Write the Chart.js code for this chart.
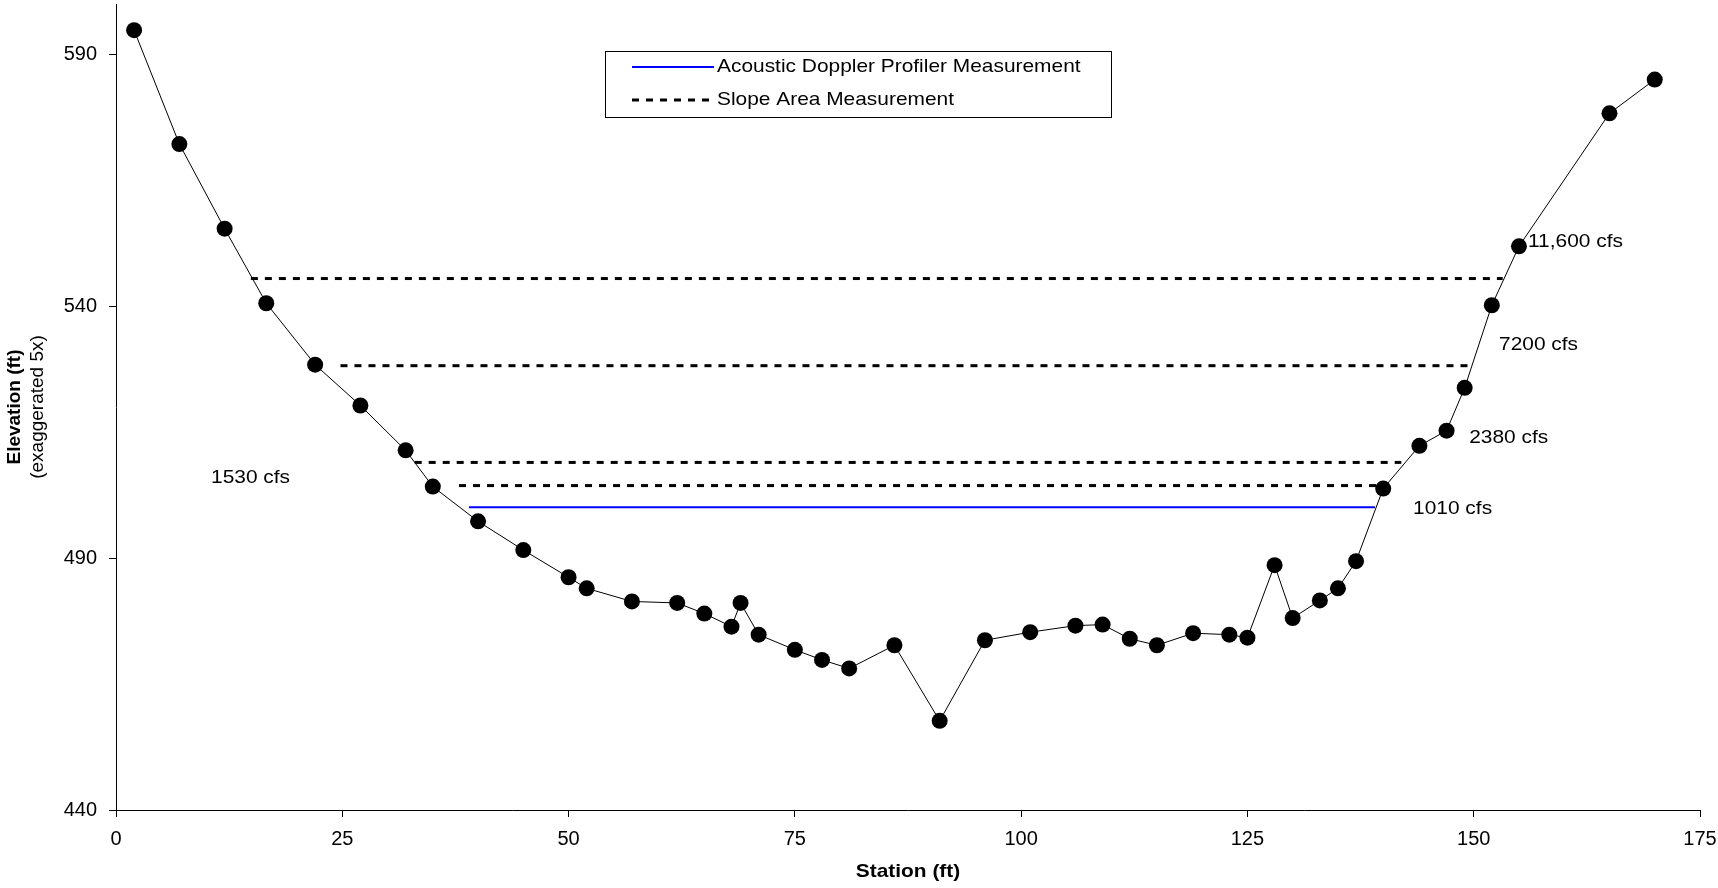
<!DOCTYPE html>
<html>
<head>
<meta charset="utf-8">
<script src="https://cdn.jsdelivr.net/npm/chart.js@4.4.1/dist/chart.umd.min.js"></script>
<style>
  body { margin: 0; background: #fff; }
  #wrap { width: 1718px; height: 888px; }
</style>
</head>
<body>
<div id="wrap"><canvas id="section"></canvas></div>
<script>
// channel cross section
const station = [2, 7, 12, 16.6, 22, 27, 32, 35, 40, 45, 50, 52, 57, 62, 65, 68, 69, 71, 75, 78, 81, 86, 91, 96, 101, 106, 109, 112, 115, 119, 123, 125, 128, 130, 133, 135, 137, 140, 144, 147, 149, 152, 155, 165, 170];
const elevation = [594.8, 572.2, 555.4, 540.6, 528.4, 520.3, 511.4, 504.2, 497.3, 491.6, 486.2, 484.0, 481.4, 481.1, 479.0, 476.4, 481.1, 474.8, 471.8, 469.8, 468.1, 472.7, 457.7, 473.7, 475.3, 476.6, 476.8, 474.0, 472.7, 475.1, 474.8, 474.2, 488.6, 478.1, 481.6, 484.0, 489.4, 503.8, 512.3, 515.3, 523.8, 540.2, 551.9, 578.3, 585.0];

// water surfaces
const adpLevel = 500.1;
const adpFrom = 39.0;
const adpTo = 139.1;
const slopeLevels = [545.5, 528.2, 509.0, 504.4];
const slopeFrom = [14.9, 24.8, 33.0, 37.9];
const slopeTo = [153.2, 150.0, 142.0, 139.3];

// discharge labels
const flowLabels = ["11,600 cfs", "7200 cfs", "2380 cfs", "1010 cfs", "1530 cfs"];
const flowX = [156.0, 152.8, 149.5, 143.3, 10.5];
const flowY = [552.8, 532.3, 513.9, 499.7, 505.9];

const xTicks = [0, 25, 50, 75, 100, 125, 150, 175];
const yTicks = [440, 490, 540, 590];

const FONT = "'Liberation Sans', Arial, sans-serif";

function stretchText(ctx, text, x, y, font, align) {
  ctx.save();
  ctx.font = font;
  ctx.fillStyle = "#000";
  ctx.textBaseline = "middle";
  ctx.textAlign = align;
  ctx.translate(x, y);
  ctx.scale(1.1, 1);
  ctx.fillText(text, 0, 0);
  ctx.restore();
}

const annotations = {
  id: "annotations",
  afterDatasetsDraw(chart) {
    const ctx = chart.ctx;
    const sx = chart.scales.x, sy = chart.scales.y;
    flowLabels.forEach((t, i) => {
      stretchText(ctx, t, sx.getPixelForValue(flowX[i]), sy.getPixelForValue(flowY[i]), "19px " + FONT, "left");
    });
  },
  afterDraw(chart) {
    const ctx = chart.ctx;
    const area = chart.chartArea;
    const cy = (area.top + area.bottom) / 2;

    // axis titles
    stretchText(ctx, "Station (ft)", (area.left + area.right) / 2, 872, "bold 19px " + FONT, "center");
    ctx.save();
    ctx.fillStyle = "#000";
    ctx.textAlign = "center";
    ctx.textBaseline = "middle";
    ctx.translate(15, cy);
    ctx.rotate(-Math.PI / 2);
    ctx.font = "bold 19px " + FONT;
    ctx.fillText("Elevation (ft)", 0, 0);
    ctx.font = "19px " + FONT;
    ctx.fillText("(exaggerated 5x)", 0, 23);
    ctx.restore();

    // legend
    const ds = chart.data.datasets;
    ctx.save();
    ctx.strokeStyle = "#000";
    ctx.lineWidth = 1;
    ctx.strokeRect(605.5, 51.5, 506, 66);
    [[ds[0], 67], [ds[1], 100]].forEach(([d, y]) => {
      ctx.beginPath();
      ctx.strokeStyle = d.borderColor;
      ctx.lineWidth = d.borderWidth;
      ctx.setLineDash(d.borderDash || []);
      ctx.moveTo(632, y);
      ctx.lineTo(714, y);
      ctx.stroke();
      ctx.setLineDash([]);
      stretchText(ctx, d.label, 717, y, "19px " + FONT, "left");
    });
    ctx.restore();
  }
};

const datasets = [
  {
    label: "Acoustic Doppler Profiler Measurement",
    data: [{ x: adpFrom, y: adpLevel }, { x: adpTo, y: adpLevel }],
    borderColor: "#0000FF",
    borderWidth: 2,
    pointRadius: 0,
    showLine: true
  }
];
slopeLevels.forEach((lvl, i) => {
  datasets.push({
    label: "Slope Area Measurement",
    data: [{ x: slopeFrom[i], y: lvl }, { x: slopeTo[i], y: lvl }],
    borderColor: "#000",
    borderWidth: 3,
    borderDash: [7, 7],
    pointRadius: 0,
    showLine: true
  });
});
datasets.push({
  label: "Ground",
  data: station.map((s, i) => ({ x: s, y: elevation[i] })),
  borderColor: "#000",
  borderWidth: 1,
  pointRadius: 8,
  pointBackgroundColor: "#000",
  pointBorderWidth: 0,
  showLine: true,
  tension: 0,
  clip: false
});

new Chart(document.getElementById("section"), {
  type: "scatter",
  data: { datasets: datasets },
  options: {
    responsive: true,
    maintainAspectRatio: false,
    animation: false,
    layout: { autoPadding: false, padding: { top: 4, right: 18, left: 0, bottom: 0 } },
    plugins: { legend: { display: false }, tooltip: { enabled: false } },
    scales: {
      x: {
        type: "linear",
        min: 0,
        max: 175,
        afterBuildTicks: (s) => { s.ticks = xTicks.map(v => ({ value: v })); },
        afterFit: (s) => { s.height = 78; s.paddingLeft = 0; s.paddingRight = 0; },
        ticks: { color: "#000", font: { family: FONT, size: 20 }, padding: 10, maxRotation: 0 },
        grid: { drawOnChartArea: false, color: "#000", tickLength: 7 },
        border: { color: "#000", width: 1 }
      },
      y: {
        type: "linear",
        min: 440,
        max: 600,
        afterBuildTicks: (s) => { s.ticks = yTicks.map(v => ({ value: v })); },
        afterFit: (s) => { s.width = 116; s.paddingTop = 0; s.paddingBottom = 0; },
        ticks: { color: "#000", font: { family: FONT, size: 20 }, padding: 12 },
        grid: { drawOnChartArea: false, color: "#000", tickLength: 7 },
        border: { color: "#000", width: 1 }
      }
    }
  },
  plugins: [annotations]
});
</script>
</body>
</html>
